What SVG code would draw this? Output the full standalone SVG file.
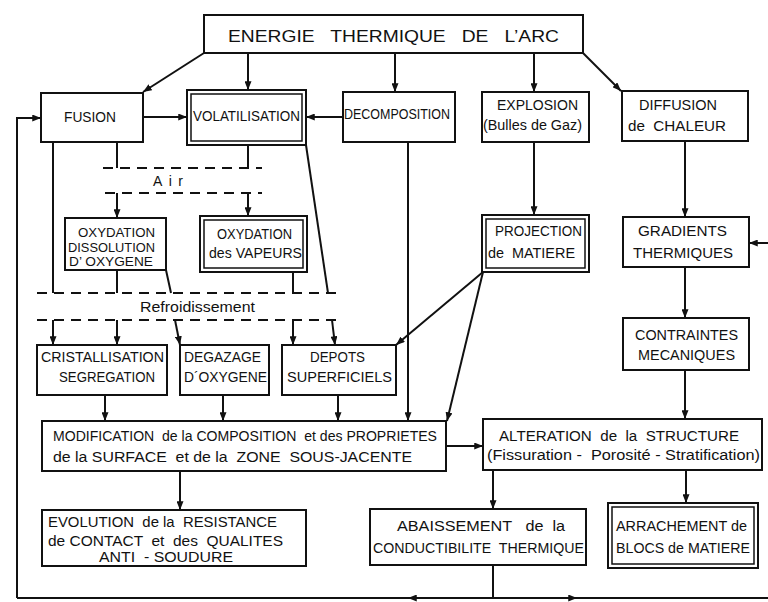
<svg xmlns="http://www.w3.org/2000/svg" width="768" height="602" viewBox="0 0 768 602" xml:space="preserve">
<defs>
<marker id="ah" viewBox="0 0 10 8" refX="10" refY="4" markerWidth="9" markerHeight="7" markerUnits="userSpaceOnUse" orient="auto">
<path d="M0,0 L10,4 L0,8 z" fill="#111"/>
</marker>
</defs>
<style>
.b{fill:none;stroke:#111;stroke-width:2}
.b1{fill:none;stroke:#111;stroke-width:1.5}
.t{font-family:"Liberation Sans","DejaVu Sans",sans-serif;font-size:14px;fill:#111;white-space:pre}
.s{font-size:12.5px}
.tt{font-family:"Liberation Sans","DejaVu Sans",sans-serif;font-size:17px;fill:#111;white-space:pre}
.c{fill:none;stroke:#111;stroke-width:2}
.a{fill:none;stroke:#111;stroke-width:2;marker-end:url(#ah)}
.d{fill:none;stroke:#111;stroke-width:2;stroke-dasharray:10 7}
</style>
<rect width="768" height="602" fill="#fff"/>
<g id="title"><rect class="b" x="204" y="15" width="379" height="38"/><text class="tt" x="228" y="42" textLength="331" lengthAdjust="spacingAndGlyphs">ENERGIE   THERMIQUE   DE   L’ARC</text></g>
<g id="fusion"><rect class="b" x="41" y="93" width="102" height="49"/><text class="t" x="64" y="122" textLength="52" lengthAdjust="spacingAndGlyphs">FUSION</text></g>
<g id="volatilisation"><rect class="b" x="187" y="90" width="119" height="55"/><rect class="b1" x="191" y="94" width="111" height="47"/><text class="t" x="193" y="121" textLength="107" lengthAdjust="spacingAndGlyphs">VOLATILISATION</text></g>
<g id="decomposition"><rect class="b" x="343" y="92" width="112" height="50"/><text class="t" x="344" y="119" textLength="106" lengthAdjust="spacingAndGlyphs">DECOMPOSITION</text></g>
<g id="explosion"><rect class="b" x="482" y="92" width="107" height="50"/><text class="t" x="497" y="110" textLength="81" lengthAdjust="spacingAndGlyphs">EXPLOSION</text><text class="t" x="483" y="130" textLength="99" lengthAdjust="spacingAndGlyphs">(Bulles de Gaz)</text></g>
<g id="diffusion"><rect class="b" x="622" y="91" width="126" height="50"/><text class="t" x="639" y="110" textLength="78" lengthAdjust="spacingAndGlyphs">DIFFUSION</text><text class="t" x="628" y="131" textLength="98" lengthAdjust="spacingAndGlyphs">de  CHALEUR</text></g>
<g id="oxydation-dissolution"><rect class="b" x="65" y="218" width="101" height="52"/><text class="t s" x="78" y="237" textLength="77" lengthAdjust="spacingAndGlyphs">OXYDATION</text><text class="t s" x="68" y="252" textLength="87" lengthAdjust="spacingAndGlyphs">DISSOLUTION</text><text class="t s" x="69" y="266" textLength="84" lengthAdjust="spacingAndGlyphs">D’ OXYGENE</text></g>
<g id="oxydation-vapeurs"><rect class="b" x="200" y="216" width="107" height="56"/><rect class="b1" x="204" y="220" width="99" height="48"/><text class="t" x="217" y="239" textLength="75" lengthAdjust="spacingAndGlyphs">OXYDATION</text><text class="t" x="209" y="258" textLength="93" lengthAdjust="spacingAndGlyphs">des VAPEURS</text></g>
<g id="projection"><rect class="b" x="482" y="215" width="107" height="57"/><rect class="b1" x="486" y="219" width="99" height="49"/><text class="t" x="495" y="236" textLength="87" lengthAdjust="spacingAndGlyphs">PROJECTION</text><text class="t" x="488" y="258" textLength="87" lengthAdjust="spacingAndGlyphs">de  MATIERE</text></g>
<g id="gradients"><rect class="b" x="623" y="217" width="126" height="50"/><text class="t" x="638" y="236" textLength="89" lengthAdjust="spacingAndGlyphs">GRADIENTS</text><text class="t" x="633" y="258" textLength="100" lengthAdjust="spacingAndGlyphs">THERMIQUES</text></g>
<g id="contraintes"><rect class="b" x="623" y="318" width="126" height="52"/><text class="t" x="635" y="340" textLength="103" lengthAdjust="spacingAndGlyphs">CONTRAINTES</text><text class="t" x="638" y="360" textLength="97" lengthAdjust="spacingAndGlyphs">MECANIQUES</text></g>
<g id="air-label"><text class="t" x="153" y="186" textLength="30" lengthAdjust="spacing">Air</text></g>
<g id="refroidissement-label"><text class="t" x="140" y="312" textLength="115" lengthAdjust="spacingAndGlyphs">Refroidissement</text></g>
<g id="cristallisation"><rect class="b" x="37" y="345" width="130" height="50"/><text class="t" x="41" y="362" textLength="123" lengthAdjust="spacingAndGlyphs">CRISTALLISATION</text><text class="t" x="59" y="382" textLength="96" lengthAdjust="spacingAndGlyphs">SEGREGATION</text></g>
<g id="degazage"><rect class="b" x="180" y="345" width="89" height="50"/><text class="t" x="184" y="362" textLength="77" lengthAdjust="spacingAndGlyphs">DEGAZAGE</text><text class="t" x="184" y="382" textLength="83" lengthAdjust="spacingAndGlyphs">D´OXYGENE</text></g>
<g id="depots"><rect class="b" x="282" y="345" width="114" height="50"/><text class="t" x="310" y="362" textLength="55" lengthAdjust="spacingAndGlyphs">DEPOTS</text><text class="t" x="287" y="382" textLength="105" lengthAdjust="spacingAndGlyphs">SUPERFICIELS</text></g>
<g id="modification"><rect class="b" x="42" y="421" width="404" height="50"/><text class="t" x="53" y="441" textLength="384" lengthAdjust="spacingAndGlyphs">MODIFICATION  de la COMPOSITION  et des PROPRIETES</text><text class="t" x="53" y="462" textLength="359" lengthAdjust="spacingAndGlyphs">de la SURFACE  et de la  ZONE  SOUS-JACENTE</text></g>
<g id="alteration"><rect class="b" x="483" y="419" width="279" height="51"/><text class="t" x="499" y="441" textLength="240" lengthAdjust="spacingAndGlyphs">ALTERATION  de  la  STRUCTURE</text><text class="t" x="487" y="460" textLength="273" lengthAdjust="spacingAndGlyphs">(Fissuration -  Porosité - Stratification)</text></g>
<g id="evolution"><rect class="b" x="42" y="510" width="264" height="56"/><text class="t" x="48" y="527" textLength="229" lengthAdjust="spacingAndGlyphs">EVOLUTION  de la  RESISTANCE</text><text class="t" x="48" y="546" textLength="235" lengthAdjust="spacingAndGlyphs">de CONTACT  et  des  QUALITES</text><text class="t" x="99" y="562" textLength="134" lengthAdjust="spacingAndGlyphs">ANTI  - SOUDURE</text></g>
<g id="abaissement"><rect class="b" x="370" y="509" width="216" height="56"/><text class="t" x="397" y="531" textLength="168" lengthAdjust="spacingAndGlyphs">ABAISSEMENT   de  la</text><text class="t" x="373" y="553" textLength="211" lengthAdjust="spacingAndGlyphs">CONDUCTIBILITE  THERMIQUE</text></g>
<g id="arrachement"><rect class="b" x="608" y="503" width="150" height="65"/><rect class="b1" x="612" y="507" width="142" height="57"/><text class="t" x="616" y="531" textLength="131" lengthAdjust="spacingAndGlyphs">ARRACHEMENT de</text><text class="t" x="616" y="553" textLength="134" lengthAdjust="spacingAndGlyphs">BLOCS de MATIERE</text></g>
<g id="connectors">
<path class="a" d="M204,53 L143,92"/>
<path class="a" d="M248,53 L248,90"/>
<path class="a" d="M395,53 L395,92"/>
<path class="a" d="M534,53 L534,92"/>
<path class="a" d="M583,53 L621,91"/>
<path class="a" d="M143,117 L187,117"/>
<path class="a" d="M343,117 L306,117"/>
<path class="d" d="M103,168 L262,168"/>
<path class="d" d="M105,193 L262,193"/>
<path class="c" d="M117,142 L117,168"/>
<path class="a" d="M117,193 L117,218"/>
<path class="c" d="M248,145 L248,168"/>
<path class="a" d="M248,193 L248,216"/>
<path class="c" d="M53,142 L53,293"/>
<path class="d" d="M37,293 L343,293"/>
<path class="d" d="M37,320 L343,320"/>
<path class="c" d="M117,270 L117,293"/>
<path class="c" d="M166,270 L171,293"/>
<path class="c" d="M293,272 L293,293"/>
<path class="c" d="M306,145 L328,293"/>
<path class="a" d="M53,320 L53,345"/>
<path class="a" d="M117,320 L117,345"/>
<path class="a" d="M175,320 L180,345"/>
<path class="a" d="M293,320 L293,345"/>
<path class="a" d="M332,320 L335,345"/>
<path class="a" d="M408,142 L408,421"/>
<path class="a" d="M534,142 L534,215"/>
<path class="a" d="M483,272 L396,345"/>
<path class="a" d="M483,272 L447,421"/>
<path class="a" d="M105,395 L105,421"/>
<path class="a" d="M223,395 L223,421"/>
<path class="a" d="M338,395 L338,421"/>
<path class="a" d="M685,141 L685,217"/>
<path class="a" d="M685,267 L685,318"/>
<path class="a" d="M685,370 L685,419"/>
<path class="a" d="M446,446 L483,446"/>
<path class="a" d="M180,471 L180,510"/>
<path class="a" d="M493,470 L493,509"/>
<path class="a" d="M686,470 L686,503"/>
<path class="c" d="M493,565 L493,598"/>
<path class="c" d="M17,598 L768,598"/>
<path class="a" d="M430,598 L408,598"/>
<path class="a" d="M560,598 L577,598"/>
<path class="a" d="M17,598 L17,118 L41,118"/>
<path class="a" d="M768,243 L749,243"/>
</g>
</svg>
